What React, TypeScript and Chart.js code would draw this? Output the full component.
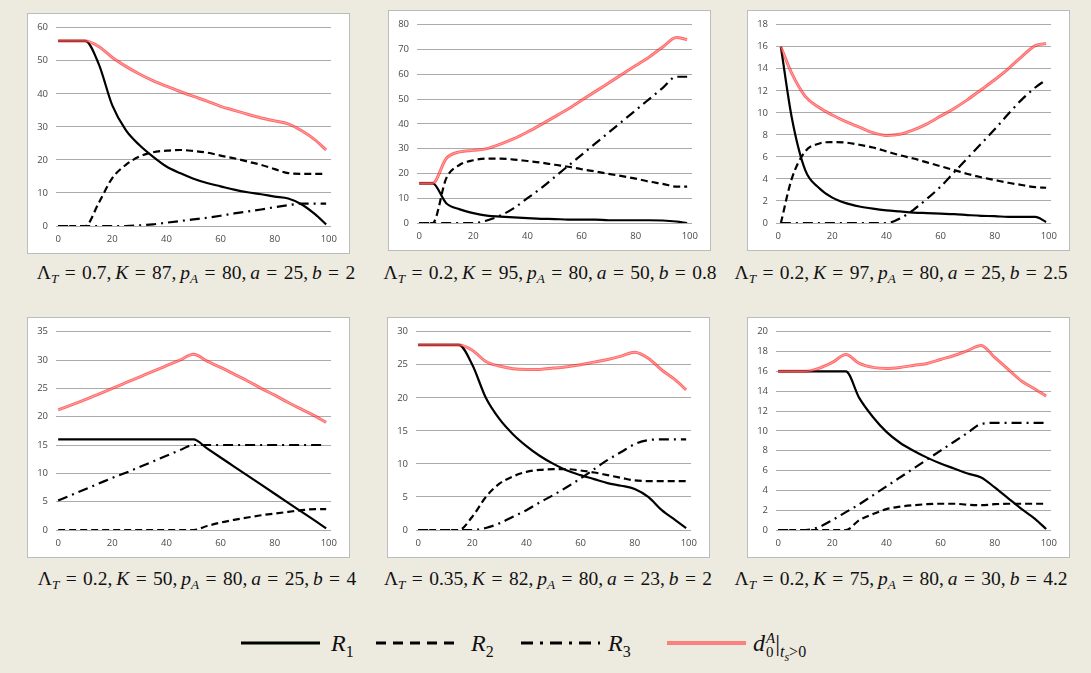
import React, { useEffect, useRef } from 'react';
import { Chart, registerables } from 'chart.js';

Chart.register(...registerables);

// ---------- DATA ----------
const X_STD = [0, 5, 10, 15, 20, 25, 30, 35, 40, 45, 50, 55, 60, 65, 70, 75, 80, 85, 90, 95, 99];
const X_ALT = [1, 5, 10, 15, 20, 25, 30, 35, 40, 45, 50, 55, 60, 65, 70, 75, 80, 85, 90, 95, 99];
const X_TICKS = [0, 20, 40, 60, 80, 100];

// Panel 1
const p1R1 = [56, 56, 56, 49, 36.5, 29, 24.5, 21, 18, 16, 14.3, 13, 12, 11, 10.2, 9.6, 8.9, 8.3, 6.5, 3.5, 0.5];
const p1R2 = [0, 0, 0, 7, 14.5, 18.5, 21, 22.3, 22.8, 23, 22.7, 22.2, 21.3, 20.5, 19.5, 18.5, 17.2, 16, 15.8, 15.8, 15.8];
const p1R3 = [0, 0, 0, 0, 0, 0, 0.2, 0.5, 1, 1.5, 2, 2.5, 3.1, 3.8, 4.4, 5, 5.7, 6.3, 6.8, 6.8, 6.8];
const p1D = [56, 56, 56, 54.3, 51, 48.3, 46, 44, 42.3, 40.7, 39.2, 37.8, 36.2, 35, 33.8, 32.7, 31.8, 30.9, 28.8, 26, 23];

// Panel 2
const p2R1 = [16, 16, 8, 5.5, 4, 3, 2.6, 2.3, 2, 1.7, 1.6, 1.4, 1.4, 1.4, 1.1, 1.1, 1.1, 1.1, 1, 0.6, 0];
const p2R2 = [0, 0, 18, 23.5, 25.3, 26, 26, 25.6, 25, 24.4, 23.5, 22.7, 21.7, 20.8, 19.8, 18.9, 17.9, 16.7, 15.8, 14.7, 14.7];
const p2R3 = [0, 0, 0, 0, 0, 1, 3, 6, 10, 14, 18.5, 23, 27.5, 32, 36.5, 41, 45.5, 50, 54.5, 59, 59];
const p2D = [16, 16, 26, 28.7, 29.3, 30, 31.8, 34, 36.7, 39.7, 42.8, 46, 49.5, 53, 56.5, 60, 63.5, 67, 71, 74.8, 74];

// Panel 3
const p3R1 = [16, 9.6, 4.8, 3.2, 2.3, 1.8, 1.5, 1.3, 1.15, 1.05, 0.95, 0.9, 0.85, 0.8, 0.72, 0.65, 0.62, 0.55, 0.55, 0.55, 0.1];
const p3R2 = [0, 4, 6.5, 7.2, 7.35, 7.3, 7.1, 6.85, 6.5, 6.15, 5.85, 5.5, 5.15, 4.8, 4.45, 4.15, 3.9, 3.65, 3.45, 3.25, 3.2];
const p3R3 = [0, 0, 0, 0, 0, 0, 0, 0, 0, 0.4, 1.2, 2.2, 3.3, 4.6, 5.9, 7.2, 8.5, 9.9, 11.2, 12.3, 13];
const p3D = [16, 13.6, 11.5, 10.5, 9.8, 9.2, 8.7, 8.2, 7.95, 8.05, 8.45, 9, 9.7, 10.4, 11.2, 12.1, 13, 14, 15.1, 16.1, 16.3];

// Panel 4
const p4R1 = [16, 16, 16, 16, 16, 16, 16, 16, 16, 16, 16, 14.4, 12.8, 11.2, 9.6, 8, 6.4, 4.8, 3.2, 1.6, 0.3];
const p4R2 = [0, 0, 0, 0, 0, 0, 0, 0, 0, 0, 0, 0.7, 1.3, 1.8, 2.2, 2.6, 2.9, 3.2, 3.5, 3.7, 3.7];
const p4R3 = [5.2, 6.2, 7.2, 8.2, 9.2, 10.1, 11.1, 12.1, 13.1, 14.1, 15, 15, 15, 15, 15, 15, 15, 15, 15, 15, 15];
const p4D = [21.2, 22.1, 23, 24, 25, 26, 27, 28, 29, 30, 31, 29.8, 28.7, 27.5, 26.3, 25, 23.8, 22.5, 21.3, 20.1, 19];

// Panel 5
const p5R1 = [28, 28, 28, 28, 25, 20, 16.8, 14.5, 12.7, 11.2, 10, 9, 8.3, 7.7, 7.1, 6.7, 6.2, 5, 3, 1.5, 0.3];
const p5R2 = [0, 0, 0, 0, 2, 5, 7, 8.1, 8.8, 9.1, 9.2, 9.2, 9, 8.7, 8.3, 7.9, 7.5, 7.4, 7.4, 7.4, 7.4];
const p5R3 = [0, 0, 0, 0, 0, 0.3, 1, 2, 3, 4.2, 5.3, 6.5, 7.8, 9.2, 10.6, 11.8, 13, 13.6, 13.7, 13.7, 13.7];
const p5D = [28, 28, 28, 28, 27.2, 25.5, 24.8, 24.4, 24.3, 24.3, 24.5, 24.7, 25, 25.4, 25.8, 26.3, 26.9, 26, 24.2, 22.7, 21.2];

// Panel 6
const p6R1 = [16, 16, 16, 16, 16, 16, 13.3, 11.4, 9.9, 8.8, 8, 7.3, 6.7, 6.2, 5.7, 5.3, 4.3, 3.2, 2.1, 1.1, 0.1];
const p6R2 = [0, 0, 0, 0, 0, 0, 1, 1.6, 2.1, 2.35, 2.5, 2.6, 2.65, 2.65, 2.55, 2.5, 2.6, 2.65, 2.65, 2.65, 2.65];
const p6R3 = [0, 0, 0, 0.3, 1, 1.8, 2.6, 3.5, 4.4, 5.3, 6.2, 7.1, 8, 8.9, 9.8, 10.7, 10.8, 10.8, 10.8, 10.8, 10.8];
const p6D = [16, 16, 16, 16.3, 16.9, 17.7, 16.8, 16.4, 16.3, 16.4, 16.6, 16.8, 17.2, 17.6, 18.1, 18.6, 17.4, 16.2, 15, 14.2, 13.5];

// Axis maxima and steps
const Y_MAX = [60, 80, 18, 35, 30, 20];
const Y_STEP = [10, 10, 2, 5, 5, 2];

// Caption parameters
const LAMBDA_T = ['0.7', '0.2', '0.2', '0.2', '0.35', '0.2'];
const K_VAL = ['87', '95', '97', '50', '82', '75'];
const PA_VAL = ['80', '80', '80', '80', '80', '80'];
const A_VAL = ['25', '50', '25', '25', '23', '30'];
const B_VAL = ['2', '0.8', '2.5', '4', '2', '4.2'];

const LEGEND_LABELS = ['R1', 'R2', 'R3', 'd0A|ts>0'];

// ---------- LAYOUT ----------
const BOX_LEFT = [27, 388, 747, 27, 387, 747];
const BOX_TOP = [13, 10, 10, 317, 317, 317];
const BOX_W = 323;
const BOX_H = 241;
const CAP_CX = [196, 550, 901, 197, 548, 901];
const CAP_CY = [273, 273, 273, 579, 579, 579];

const PANELS = [
  { x: X_STD, r1: p1R1, r2: p1R2, r3: p1R3, d: p1D },
  { x: X_STD, r1: p2R1, r2: p2R2, r3: p2R3, d: p2D },
  { x: X_ALT, r1: p3R1, r2: p3R2, r3: p3R3, d: p3D },
  { x: X_STD, r1: p4R1, r2: p4R2, r3: p4R3, d: p4D },
  { x: X_STD, r1: p5R1, r2: p5R2, r3: p5R3, d: p5D },
  { x: X_STD, r1: p6R1, r2: p6R2, r3: p6R3, d: p6D },
];

const RED = 'rgba(255, 15, 15, 0.62)';
const RED_CENTER = 'rgba(255, 235, 235, 0.45)';
const TICK_FONT = { family: "'Open Sans', 'Liberation Sans', sans-serif", size: 9.5 };
const TICK_COLOR = '#4a4a4a';
const SERIF = "'Liberation Serif', 'DejaVu Serif', serif";

function pts(xs: number[], ys: number[]) {
  return ys.map((y, i) => ({ x: xs[i], y }));
}

function Panel({ idx }: { idx: number }) {
  const ref = useRef<HTMLCanvasElement | null>(null);
  useEffect(() => {
    if (!ref.current) return;
    const p = PANELS[idx];
    const common = { pointRadius: 0, fill: false, cubicInterpolationMode: 'monotone' };
    const chart = new Chart(ref.current, {
      type: 'line',
      data: {
        datasets: [
          { ...common, label: 'center', data: pts(p.x, p.d), borderColor: RED_CENTER, borderWidth: 1, order: 0 },
          { ...common, label: LEGEND_LABELS[3], data: pts(p.x, p.d), borderColor: RED, borderWidth: 3, order: 1 },
          { ...common, label: LEGEND_LABELS[0], data: pts(p.x, p.r1), borderColor: '#000', borderWidth: 2.2, order: 2 },
          { ...common, label: LEGEND_LABELS[1], data: pts(p.x, p.r2), borderColor: '#000', borderWidth: 2.2, borderDash: [7, 4], order: 3 },
          { ...common, label: LEGEND_LABELS[2], data: pts(p.x, p.r3), borderColor: '#000', borderWidth: 2.2, borderDash: [10, 5, 2, 5], order: 4 },
        ],
      },
      options: {
        animation: false,
        responsive: false,
        events: [],
        layout: { padding: { top: 11, right: 18, left: 0, bottom: 0 } },
        plugins: { legend: { display: false }, tooltip: { enabled: false } },
        scales: {
          x: {
            type: 'linear',
            min: -0.8,
            max: 100.8,
            afterBuildTicks: (s: any) => {
              s.ticks = X_TICKS.map((v) => ({ value: v }));
            },
            afterFit: (s: any) => {
              s.height = 27;
            },
            grid: { display: false, drawTicks: false },
            border: { display: false },
            ticks: { font: TICK_FONT, color: TICK_COLOR, padding: 8, maxRotation: 0, autoSkip: false },
          },
          y: {
            min: 0,
            max: Y_MAX[idx],
            afterFit: (s: any) => {
              s.width = 28;
            },
            ticks: { stepSize: Y_STEP[idx], font: TICK_FONT, color: TICK_COLOR, padding: 8, autoSkip: false },
            grid: { color: '#ababab', lineWidth: 1, drawTicks: false },
            border: { display: false },
          },
        },
      },
    } as any);
    return () => chart.destroy();
  }, [idx]);

  return (
    <div
      style={{
        position: 'absolute',
        left: BOX_LEFT[idx],
        top: BOX_TOP[idx],
        width: BOX_W,
        height: BOX_H,
        boxSizing: 'border-box',
        border: '1px solid #bcbcbc',
        background: '#ffffff',
      }}
    >
      <canvas ref={ref} width={BOX_W - 2} height={BOX_H - 2} style={{ display: 'block', width: BOX_W - 2, height: BOX_H - 2 }} />
    </div>
  );
}

const subStyle: React.CSSProperties = { fontSize: '0.68em', verticalAlign: '-0.3em', lineHeight: 0 };
const TS = '\u2009';

function Caption({ idx }: { idx: number }) {
  return (
    <div
      style={{
        position: 'absolute',
        left: CAP_CX[idx] - 200,
        width: 400,
        top: CAP_CY[idx] - 12,
        height: 24,
        lineHeight: '24px',
        textAlign: 'center',
        fontFamily: SERIF,
        fontSize: 19.5,
        wordSpacing: 1.5,
        color: '#111',
        whiteSpace: 'nowrap',
      }}
    >
      Λ<span style={subStyle}><i>T</i></span> = {LAMBDA_T[idx]},{TS}<i>K</i> = {K_VAL[idx]},{TS}<i>p</i>
      <span style={subStyle}><i>A</i></span> = {PA_VAL[idx]},{TS}<i>a</i> = {A_VAL[idx]},{TS}<i>b</i> = {B_VAL[idx]}
    </div>
  );
}

function LegendLine({ left, kind }: { left: number; kind: number }) {
  const y = 643;
  return (
    <svg style={{ position: 'absolute', left, top: y - 5 }} width={80} height={10}>
      {kind === 3 ? (
        <>
          <line x1={0} y1={5} x2={79} y2={5} stroke="rgba(255,20,20,0.65)" strokeWidth={3.5} />
          <line x1={0} y1={5} x2={79} y2={5} stroke="rgba(255,235,235,0.5)" strokeWidth={1} />
        </>
      ) : (
        <line
          x1={0}
          y1={5}
          x2={79}
          y2={5}
          stroke="#000"
          strokeWidth={3}
          strokeDasharray={kind === 0 ? undefined : kind === 1 ? '10 7' : '12 7 3 7'}
        />
      )}
    </svg>
  );
}

function LegendText({ left, children }: { left: number; children: React.ReactNode }) {
  return (
    <div
      style={{
        position: 'absolute',
        left,
        top: 628,
        height: 30,
        lineHeight: '30px',
        fontFamily: SERIF,
        fontSize: 24,
        color: '#111',
        whiteSpace: 'nowrap',
      }}
    >
      {children}
    </div>
  );
}

const legSub: React.CSSProperties = { fontSize: 16, verticalAlign: '-0.35em', lineHeight: 0, fontStyle: 'normal' };

export default function App() {
  return (
    <div
      style={{
        position: 'fixed',
        left: 0,
        top: 0,
        width: 1091,
        height: 673,
        background: '#edeae0',
        overflow: 'hidden',
      }}
    >
      {PANELS.map((_, i) => (
        <Panel key={'p' + i} idx={i} />
      ))}
      {PANELS.map((_, i) => (
        <Caption key={'c' + i} idx={i} />
      ))}
      <LegendLine left={241} kind={0} />
      <LegendText left={331}>
        <i>R</i>
        <span style={legSub}>1</span>
      </LegendText>
      <LegendLine left={376} kind={1} />
      <LegendText left={471}>
        <i>R</i>
        <span style={legSub}>2</span>
      </LegendText>
      <LegendLine left={521} kind={2} />
      <LegendText left={608}>
        <i>R</i>
        <span style={legSub}>3</span>
      </LegendText>
      <LegendLine left={667} kind={3} />
      <LegendText left={753}>
        <i>d</i>
        <span
          style={{
            display: 'inline-flex',
            flexDirection: 'column',
            verticalAlign: 'middle',
            fontSize: 15,
            lineHeight: '14px',
            marginLeft: 1,
          }}
        >
          <i>A</i>
          <span>0</span>
        </span>
        <span>|</span>
        <span style={{ fontSize: 16, verticalAlign: '-0.4em', lineHeight: 0 }}>
          <i>t</i>
          <span style={{ fontSize: 12, verticalAlign: '-0.3em' }}>
            <i>s</i>
          </span>
          &gt;0
        </span>
      </LegendText>
    </div>
  );
}
